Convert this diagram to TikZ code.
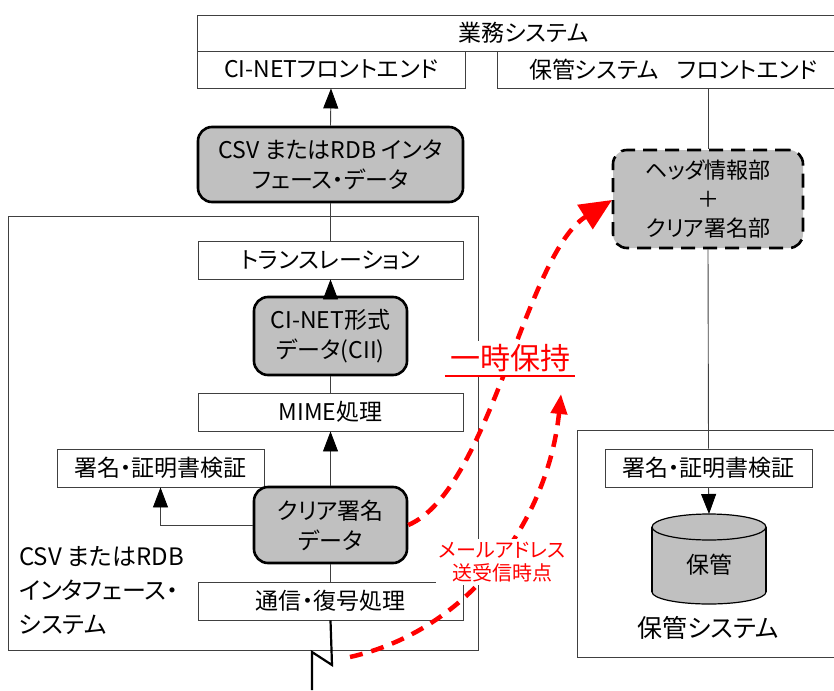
\documentclass[tikz,border=0pt]{standalone}
\usepackage{fontspec}
\setmainfont{Noto Sans CJK JP}[RawFeature=+palt]
\usetikzlibrary{arrows.meta,calc}
\definecolor{boxgray}{HTML}{C0C0C0}
\definecolor{linegray}{HTML}{404040}
\newcommand{\fsz}[2]{\fontsize{#1pt}{#2pt}\selectfont}
\begin{document}
\begin{tikzpicture}[x=1pt,y=-1pt,
  box/.style={draw=linegray, line width=0.9pt, fill=white, inner sep=0pt, font=\fsz{23}{27}},
  frame/.style={draw=linegray, line width=0.9pt, inner sep=0pt},
  rbox/.style={draw=black, line width=2.6pt, rounded corners=14pt, fill=boxgray, inner sep=0pt, align=center, font=\fsz{23}{30}},
  hbox/.style={draw=black, line width=2.6pt, dash pattern=on 14pt off 8pt, rounded corners=14pt, fill=boxgray, inner sep=0pt, align=center, font=\fsz{22}{29}},
  conn/.style={draw=linegray, line width=0.9pt},
  arr/.style={conn, -{Triangle[length=20pt,width=15pt,color=black,fill=black]}},
  redarr/.style={draw=red, line width=4.5pt, dash pattern=on 13pt off 9pt},
]
\useasboundingbox (0,0) rectangle (834,690);

% outer system frames
\node[frame, minimum width=470pt, minimum height=434pt] (sysL) at (243,433) {};
\node[frame, minimum width=273pt, minimum height=227pt] (sysR) at (713.5,543.5) {};

% top boxes
\node[box, minimum width=653pt, minimum height=36pt] (gyomu) at (523.5,33) {業務システム};
\node[box, minimum width=268pt, minimum height=37pt] (cife) at (331,69.5) {CI-NETフロントエンド};
\node[box, minimum width=353pt, minimum height=37pt] (hfe) at (673.5,69.5) {保管システム\hspace{0.8em}フロントエンド};

% left column
\node[rbox, minimum width=265pt, minimum height=75pt] (csv) at (330.5,164.5) {CSV またはRDB インタ\\フェース・データ};
\node[box, minimum width=265pt, minimum height=38pt] (trans) at (330.5,260) {トランスレーション};
\node[rbox, minimum width=153pt, minimum height=78pt] (cii) at (330.5,336) {CI-NET形式\\データ(CII)};
\node[box, minimum width=265pt, minimum height=38pt] (mime) at (330.5,412) {MIME処理};
\node[box, minimum width=207pt, minimum height=38pt] (sigL) at (160.5,468) {署名・証明書検証};
\node[rbox, minimum width=153pt, minimum height=76pt] (clear) at (330.5,525) {クリア署名\\データ};
\node[box, minimum width=265pt, minimum height=38pt] (comm) at (330.5,601) {通信・復号処理};
\node[anchor=west, align=left, inner sep=0pt, font=\fsz{24}{34}] (sysLlbl) at (19,591) {CSV またはRDB\\インタフェース・\\システム};

% right column
\node[hbox, minimum width=190pt, minimum height=98pt] (hdr) at (708,199) {ヘッダ情報部\\＋\\クリア署名部};
\node[box, minimum width=207pt, minimum height=38pt] (sigR) at (708.5,468) {署名・証明書検証};

% storage cylinder
\filldraw[fill=boxgray, draw=black, line width=1.2pt] (709,592) ellipse [x radius=57, y radius=12];
\fill[boxgray] (652,527) rectangle (766,592);
\draw[black, line width=1.2pt] (652,527) -- (652,592) (766,527) -- (766,592);
\filldraw[fill=boxgray, draw=black, line width=1.2pt] (709,527) ellipse [x radius=57, y radius=13];
\coordinate (storetop) at (709,514);
\node[font=\fsz{23}{26}, inner sep=0pt] (store) at (709,565) {保管};
\node[font=\fsz{25}{28}, inner sep=0pt] (storelbl) at (708,628) {保管システム};

% connectors
\draw[arr] (csv.north) -- (cife.south);
\draw[conn] (csv.south) -- (trans.north);
\draw[arr] (cii.north) -- (trans.south);
\draw[conn] (cii.south) -- (mime.north);
\draw[arr] (clear.north) -- (mime.south);
\draw[conn] (clear.south) -- (comm.north);
\draw[arr] (clear.west) -| (sigL.south);
\draw[conn] (hdr.north |- hfe.south) -- (hdr.north);
\draw[conn] (hdr.south) -- (sigR.north);
\draw[arr] (sigR.south) -- (storetop);

% lightning
\coordinate (z1) at (332,665);
\coordinate (z2) at (312,652);
\coordinate (z3) at (312,690);
\draw[black, line width=2.2pt, line join=miter] (comm.south) -- (z1) -- (z2) -- (z3);

% red dashed arrows
\coordinate (r1e) at (612,200);
\coordinate (r2s) at (350,657);
\coordinate (r2e) at (561,394);
\draw[redarr, -{Triangle[length=32pt,width=28pt]}] (clear.east) .. controls (490,490) and (525,255) .. (r1e);
\draw[redarr, -{Triangle[length=20pt,width=16pt]}] (r2s) .. controls (470,630) and (548,520) .. (r2e);

% red labels
\node[fill=white, text=red, font=\fsz{30}{34}, inner xsep=5pt, inner ysep=3pt] (hold) at (510,358) {一時保持};
\draw[red, line width=1.6pt] ([yshift=-1pt]hold.south west) -- ([yshift=-1pt]hold.south east);
\node[fill=white, text=red, font=\fsz{20}{23}, align=center, inner sep=3pt] (mail) at (502,562) {メールアドレス\\送受信時点};
\end{tikzpicture}
\end{document}
